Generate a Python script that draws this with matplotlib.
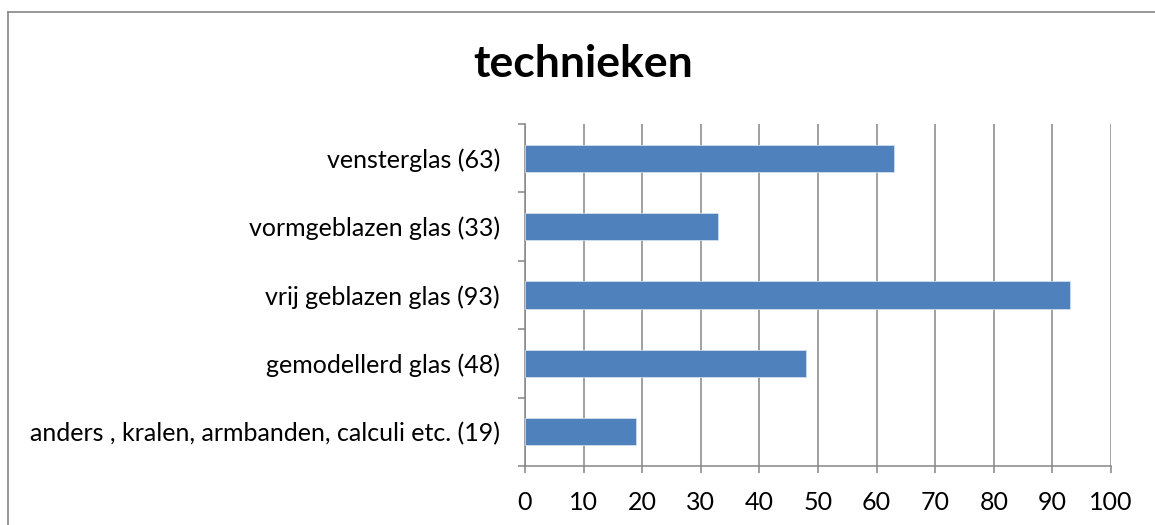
import matplotlib
matplotlib.use("Agg")
import matplotlib.pyplot as plt
from matplotlib.lines import Line2D

categories = [
    "vensterglas (63)",
    "vormgeblazen glas (33)",
    "vrij geblazen glas (93)",
    "gemodellerd glas (48)",
    "anders , kralen, armbanden, calculi etc. (19)",
]
values = [63, 33, 93, 48, 19]
xticks = [0, 10, 20, 30, 40, 50, 60, 70, 80, 90, 100]
title = "technieken"

FONT = "Lato"
GRAY = "#868686"
BLUE = "#4F81BD"

W, H = 1155, 525
fig = plt.figure(figsize=(W / 100, H / 100), dpi=100)
ax = fig.add_axes([525 / W, (H - 466) / H, (1111 - 525) / W, (466 - 124) / H])

n = len(categories)
ypos = list(range(n))[::-1]
ax.barh(ypos, values, height=0.4, color=BLUE, edgecolor="#dce6f2", linewidth=0.5, zorder=3)

ax.set_xlim(0, 100)
ax.set_ylim(-0.5, n - 0.5)
ax.set_xticks(xticks)
ax.set_xticklabels([str(t) for t in xticks], fontsize=18, family=FONT)
ax.set_yticks(ypos)
ax.set_yticklabels(categories, fontsize=18, family=FONT)
ax.set_yticks([i - 0.5 for i in range(n + 1)], minor=True)

ax.tick_params(axis="y", which="major", length=0, pad=18)
ax.tick_params(axis="y", which="minor", length=5, color=GRAY, width=1.1, direction="out")
ax.tick_params(axis="x", which="major", length=5, color=GRAY, width=1.1, direction="out", pad=13)

ax.grid(axis="x", color=GRAY, linewidth=1.1, zorder=0)
ax.set_axisbelow(True)
for s in ["top", "right"]:
    ax.spines[s].set_visible(False)
for s in ["left", "bottom"]:
    ax.spines[s].set_color(GRAY)
    ax.spines[s].set_linewidth(1.1)

fig.text(583.5 / W, 1 - 64 / H, title, ha="center", va="center", fontsize=32,
         fontweight="bold", family=FONT)

# chart frame
fig.add_artist(Line2D([8 / W, 8 / W], [0, 1 - 12 / H], color=GRAY, linewidth=1.2))
fig.add_artist(Line2D([8 / W, 1], [1 - 12 / H, 1 - 12 / H], color=GRAY, linewidth=1.2))

fig.savefig("out.png", dpi=100)
